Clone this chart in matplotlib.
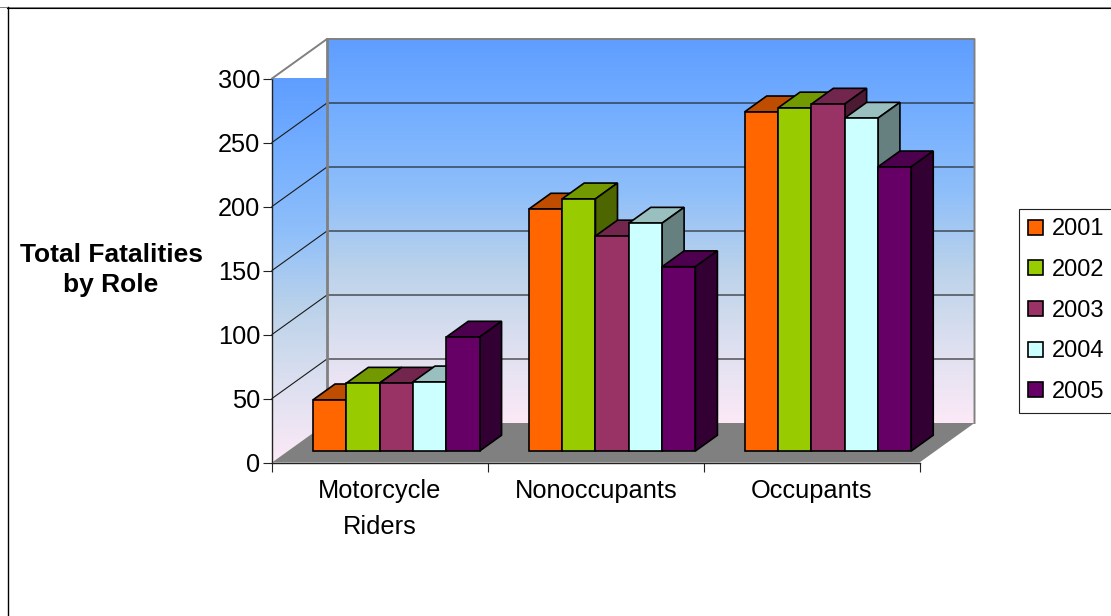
import numpy as np
import matplotlib
matplotlib.use('Agg')
import matplotlib.pyplot as plt
from matplotlib.colors import LinearSegmentedColormap, to_rgb
from matplotlib.lines import Line2D
from matplotlib.patches import Patch, Polygon

plt.rcParams['font.family'] = ['Liberation Sans', 'DejaVu Sans']

categories = ['Motorcycle\nRiders', 'Nonoccupants', 'Occupants']
years = ['2001', '2002', '2003', '2004', '2005']
colors = ['#FF6600', '#99CC00', '#993366', '#CCFFFF', '#660066']
fatalities_2001 = [40, 189, 265]
fatalities_2002 = [53, 197, 268]
fatalities_2003 = [53, 168, 271]
fatalities_2004 = [54, 178, 260]
fatalities_2005 = [89, 144, 222]
series = [fatalities_2001, fatalities_2002, fatalities_2003, fatalities_2004, fatalities_2005]
wall_colors = ['#5F9EFF', '#75AFFF', '#8FBFFA', '#BBD2EA', '#DDE0F0', '#FCE9F7']

W, H = 1111, 616
fig = plt.figure(figsize=(W / 100, H / 100), dpi=100)
# the axes is the front plane of the 3D box
ax = fig.add_axes([272 / W, 1 - 462.5 / H, 647.5 / W, 384 / H])
ax.set_xlim(0, 3)
ax.set_ylim(0, 300)
ax.patch.set_visible(False)

# how far the back wall is shifted, in data units
depth_x = 55 / 215.8
depth_y = 39.5 / 1.28


def project(x, v, d):
    return x + depth_x * d, v + depth_y * d


cmap = LinearSegmentedColormap.from_list('wall', wall_colors)
grad = np.linspace(0, 1, 256).reshape(-1, 1)

# back wall and side wall, the gradients reach outside the axes so clip to the walls only
back = [project(0, 0, 1), project(3, 0, 1), project(3, 300, 1), project(0, 300, 1)]
side = [project(0, 0, 0), project(0, 0, 1), project(0, 300, 1), project(0, 300, 0)]
im = ax.imshow(grad, cmap=cmap, aspect='auto', zorder=1, origin='upper',
               extent=(depth_x, 3 + depth_x, depth_y, 300 + depth_y))
im.set_clip_box(fig.bbox)
im.set_clip_path(Polygon(back, transform=ax.transData))
im2 = ax.imshow(grad, cmap=cmap, aspect='auto', zorder=1, origin='upper',
                extent=(0, depth_x, 0, 300))
im2.set_clip_box(fig.bbox)
im2.set_clip_path(Polygon(side, transform=ax.transData))
ax.set_xlim(0, 3)
ax.set_ylim(0, 300)

# floor
ax.add_patch(Polygon([project(0, 0, 0), project(3, 0, 0), project(3, 0, 1), project(0, 0, 1)],
                     fc='#808080', ec='none', zorder=2, clip_on=False))

# gridlines on both walls
for v in range(50, 300, 50):
    a, b, c = project(0, v, 0), project(0, v, 1), project(3, v, 1)
    ax.plot([a[0], b[0], c[0]], [a[1], b[1], c[1]], color='#1a1a1a', lw=0.8, zorder=3, clip_on=False)

# wall outline
a, b, c, d = project(0, 300, 0), project(0, 300, 1), project(3, 300, 1), project(3, 0, 1)
ax.plot([a[0], b[0], c[0], d[0]], [a[1], b[1], c[1], d[1]], color='#808080', lw=1.4, zorder=3, clip_on=False)
a, b = project(0, 0, 1), project(0, 300, 1)
ax.plot([a[0], b[0]], [a[1], b[1]], color='#808080', lw=2.0, zorder=3, clip_on=False)

# bars
bar_w = 33.3 / 215.8
margin = 0.116
d0, d1 = 16 / 55, 38 / 55
z = 5
for c in range(len(categories)):
    for i, vals in enumerate(series):
        x0 = c + margin + i * bar_w
        x1 = x0 + bar_w
        v = vals[c]
        rgb = np.array(to_rgb(colors[i]))
        top = [project(x0, v, d0), project(x1, v, d0), project(x1, v, d1), project(x0, v, d1)]
        right = [project(x1, 0, d0), project(x1, 0, d1), project(x1, v, d1), project(x1, v, d0)]
        front = [project(x0, 0, d0), project(x1, 0, d0), project(x1, v, d0), project(x0, v, d0)]
        for pts, shade in ((top, 0.75), (right, 0.5), (front, 1.0)):
            ax.add_patch(Polygon(pts, fc=rgb * shade, ec='black', lw=1.2, joinstyle='miter',
                                 zorder=z, clip_on=False))
        z += 1

ax.set_xticks([0, 1, 2, 3])
ax.set_xticklabels([])
ax.set_xticks([0.5, 1.5, 2.5], minor=True)
ax.set_xticklabels(categories, minor=True, fontsize=18.3, linespacing=1.62)
ax.tick_params(axis='x', which='minor', length=0, pad=12)
ax.tick_params(axis='x', which='major', length=6.5, width=0.8, color='#222222')
ax.set_yticks(range(0, 301, 50))
ax.tick_params(axis='y', length=6.5, width=0.8, labelsize=18.3, pad=2, color='#222222')
for s in ('top', 'right'):
    ax.spines[s].set_visible(False)
ax.spines['left'].set_linewidth(1.0)
ax.spines['bottom'].set_linewidth(1.0)
ax.spines['left'].set_color('#222222')
ax.spines['bottom'].set_color('#222222')
ax.set_zorder(2)

fig.text(111 / W, 1 - 270 / H, 'Total Fatalities\nby Role', fontsize=19, fontweight='bold',
         ha='center', va='center', linespacing=1.35)

# legend, its right side runs off the picture
handles = [Patch(fc=col, ec='black', lw=1.2) for col in colors]
leg = fig.legend(handles, years, loc='upper left', bbox_to_anchor=(1019 / W, 1 - 209 / H),
                 fontsize=17, frameon=True, fancybox=False, framealpha=1, edgecolor='#222222',
                 handlelength=0.6, handleheight=0.6, handletextpad=0.38, labelspacing=0.79,
                 borderaxespad=0, borderpad=0.4)
leg.get_frame().set_linewidth(0.8)

# chart frame, only top and left edges are in the picture
fig.add_artist(Line2D([0, 1], [1 - 6.5 / H, 1 - 6.5 / H], color='#808080', lw=0.7))
fig.add_artist(Line2D([7 / W, 1], [1 - 7.5 / H, 1 - 7.5 / H], color='black', lw=0.8))
fig.add_artist(Line2D([7.5 / W, 7.5 / W], [0, 1 - 7 / H], color='black', lw=1.0))

fig.savefig('out.png', dpi=100)
